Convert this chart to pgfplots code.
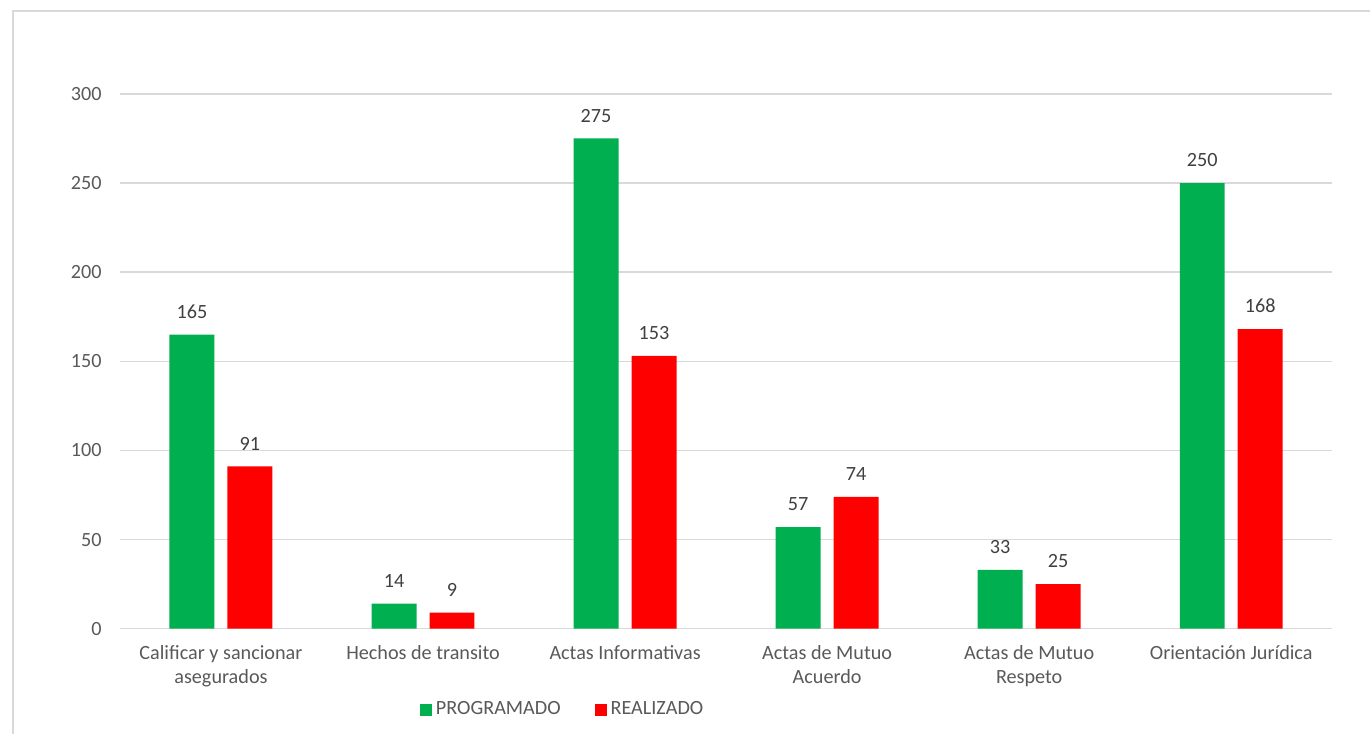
\documentclass[border=0pt]{standalone}
\usepackage{pgfplots}
\pgfplotsset{compat=1.18}
\usepackage{fontspec}
\setmainfont{Carlito}

\definecolor{progr}{RGB}{0,176,80}
\definecolor{realz}{RGB}{255,0,0}
\definecolor{gridgray}{RGB}{217,217,217}
\definecolor{ticktxt}{RGB}{89,89,89}
\definecolor{valtxt}{RGB}{64,64,64}

\begin{document}
\fontsize{10.1}{12}\selectfont
\begin{tikzpicture}[x=0.5pt,y=0.5pt]
	% page and outer frame (1 px = 0.5pt)
	\path (0,0) rectangle (1371,734);
	\draw[gridgray,line width=0.75pt] (13,0) -- (13,723) -- (1371,723);
	\begin{axis}[
		at={(60pt,52.5pt)},
		anchor=south west,
		scale only axis,
		width=606.5pt,
		height=267.5pt,
		ybar,
		bar width=22.5pt,
		xmin=-0.5, xmax=5.5,
		ymin=0, ymax=300,
		ytick={0,50,...,300},
		xtick=data,
		xticklabels={
			{Calificar y sancionar\\asegurados},
			{Hechos de transito},
			{Actas Informativas},
			{Actas de Mutuo\\Acuerdo},
			{Actas de Mutuo\\Respeto},
			{Orientación Jurídica}
		},
		axis line style={draw=none},
		major tick length=0pt,
		ymajorgrids,
		major grid style={gridgray,line width=0.75pt},
		tick label style={font=\fontsize{10.1}{12}\selectfont, text=ticktxt},
		/pgf/number format/assume math mode=true,
		yticklabel style={inner sep=0pt, xshift=-9pt},
		xticklabel style={inner sep=0pt, yshift=-8pt, align=center},
		nodes near coords,
		every node near coord/.append style={font=\fontsize{10.1}{12}\selectfont, text=valtxt, yshift=4.5pt},
		legend style={draw=none, at={(0.366,-0.152)}, anchor=center,
			legend columns=2, font=\fontsize{10.1}{12}\selectfont, text=ticktxt,
			/tikz/every even column/.append style={column sep=15pt}},
		legend image code/.code={\fill[#1] (0pt,-3pt) rectangle (6pt,3pt);},
	]
		\addplot[fill=progr, draw=none, bar shift=-14.5pt] coordinates {
			(0,165) (1,14) (2,275) (3,57) (4,33) (5,250)
		};
		\addplot[fill=realz, draw=none, bar shift=14.5pt] coordinates {
			(0,91) (1,9) (2,153) (3,74) (4,25) (5,168)
		};
		\legend{PROGRAMADO, REALIZADO}
	\end{axis}
\end{tikzpicture}
\end{document}
